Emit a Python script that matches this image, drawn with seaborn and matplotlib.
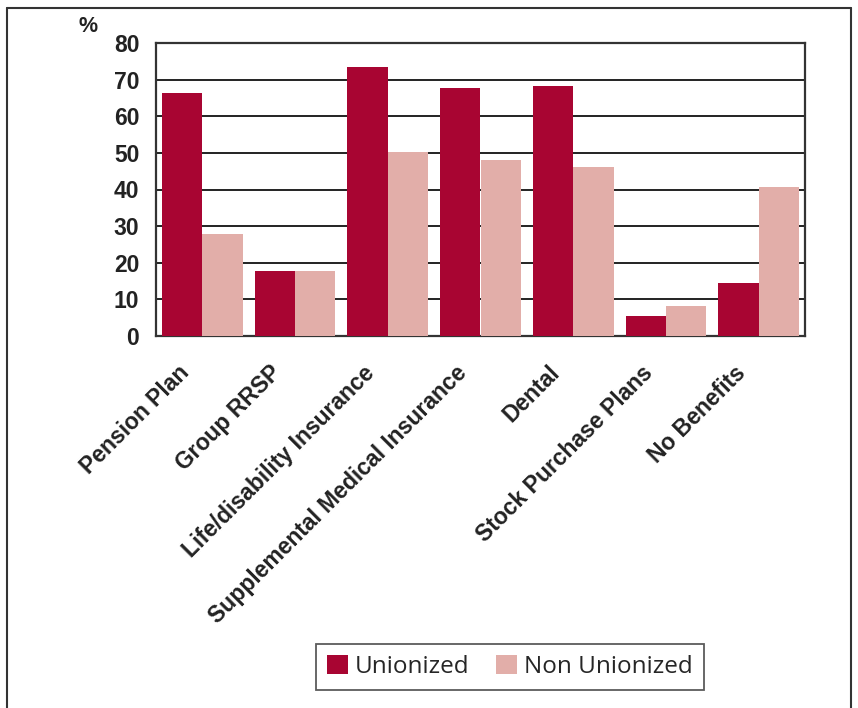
import matplotlib
matplotlib.use("Agg")
import matplotlib.pyplot as plt
import matplotlib.transforms as mtransforms
import seaborn as sns
import pandas as pd
import numpy as np
from matplotlib.patches import Rectangle
from matplotlib.lines import Line2D

categories = ["Pension Plan", "Group RRSP", "Life/disability Insurance",
              "Supplemental Medical Insurance", "Dental",
              "Stock Purchase Plans", "No Benefits"]
unionized = [66.4, 17.8, 73.5, 67.8, 68.3, 5.4, 14.5]
non_unionized = [27.9, 17.8, 50.2, 48.1, 46.2, 8.2, 40.6]
series = ["Unionized", "Non Unionized"]
colors = ["#A80532", "#E2AEA9"]
yticks = [0, 10, 20, 30, 40, 50, 60, 70, 80]

df = pd.DataFrame({
    "category": categories * 2,
    "value": unionized + non_unionized,
    "series": [series[0]] * len(categories) + [series[1]] * len(categories),
})

sns.set_style("white")
plt.rcParams["font.family"] = ["Liberation Sans", "DejaVu Sans"]

fig = plt.figure(figsize=(8.58, 7.08), dpi=100)
ax = fig.add_axes([156/858, 1-336/708, (805-156)/858, (336-43)/708])

sns.barplot(data=df, x="category", y="value", hue="series", order=categories,
            hue_order=series, palette=colors, width=0.87, gap=0, saturation=1,
            linewidth=0, ax=ax, legend=False, zorder=3)

ax.set_ylim(0, 80)
ax.set_xlim(-0.5, len(categories) - 0.5)
ax.set_yticks(yticks)
ax.set_yticklabels([str(v) for v in yticks], fontsize=16.5, fontweight="bold", color="#222222")
ax.yaxis.grid(True, color="#222222", linewidth=1.4, zorder=0)
ax.set_axisbelow(True)
ax.set_xlabel("")
ax.set_ylabel("")

ax.set_xticks(range(len(categories)))
ax.set_xticklabels(categories, rotation=45, ha="right", va="center",
                   rotation_mode="anchor",
                   fontsize=16.5, fontweight="bold", color="#222222")
ax.tick_params(axis="x", which="major", length=0, pad=24)
shift = mtransforms.ScaledTranslation(-17/100, 0, fig.dpi_scale_trans)
for lbl in ax.get_xticklabels():
    lbl.set_transform(lbl.get_transform() + shift)
ax.set_xticks(np.arange(-0.5, len(categories), 1.0), minor=True)
ax.tick_params(axis="x", which="minor", length=5.5, width=1.4, color="#333333", direction="out")
ax.tick_params(axis="y", length=6, width=1.4, color="#333333", direction="out", pad=6)

for s in ax.spines.values():
    s.set_visible(True)
    s.set_color("#333333")
    s.set_linewidth(1.6)

fig.text(88/858, 1-27/708, "%", fontsize=15.5, fontweight="bold", color="#222222",
         ha="center", va="center")

# outer frame (top, left, right)
fig.add_artist(Line2D([7/858, 851/858], [1-8/708, 1-8/708], color="#333333", linewidth=1.5))
fig.add_artist(Line2D([7/858, 7/858], [1-8/708, 0], color="#333333", linewidth=1.5))
fig.add_artist(Line2D([851/858, 851/858], [1-8/708, 0], color="#333333", linewidth=1.5))

handles = [Rectangle((0, 0), 1, 1, facecolor=c, edgecolor="none") for c in colors]
leg = fig.legend(handles, series, loc="center", bbox_to_anchor=(510/858, 1-667/708),
                 ncol=2, frameon=True, fancybox=False,
                 prop={"family": ["Open Sans", "DejaVu Sans"], "size": 17.5},
                 handlelength=0.85, handleheight=0.85, handletextpad=0.3,
                 columnspacing=1.1, borderpad=0.45, edgecolor="#333333")
leg.get_frame().set_linewidth(1.3)

fig.savefig("out.png", dpi=100)
